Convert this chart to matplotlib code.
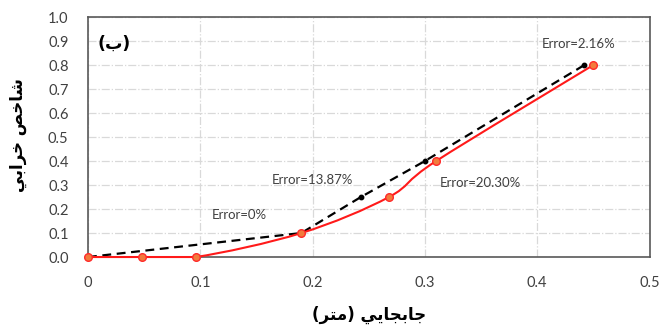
import numpy as np
import matplotlib
matplotlib.use('Agg')
import matplotlib.pyplot as plt
from matplotlib.path import Path
from matplotlib.patches import PathPatch

# red series (measured)
x_red = [0.0, 0.048, 0.096, 0.19, 0.268, 0.31, 0.45]
y_red = [0.0, 0.0, 0.0, 0.10, 0.25, 0.40, 0.80]

# black dashed series (predicted)
x_blk = [0.0, 0.19, 0.243, 0.30, 0.442]
y_blk = [0.0, 0.10, 0.25, 0.40, 0.80]

err_text = ['Error=0%', 'Error=13.87%', 'Error=20.30%', 'Error=2.16%']
err_x = [0.135, 0.200, 0.349, 0.437]
err_y = [0.175, 0.32, 0.308, 0.8875]

# arabic text written in visual order with presentation forms (no shaping in mpl)
xlab = '(\uFEAE\uFE98\uFEE3) \uFEF2\uFEF3\uFE8E\uFEA0\uFE91\uFE8E\uFE9F'
ylab = '\uFEF2\uFE91\uFE8D\uFEAE\uFEA7 \uFEBA\uFEA7\uFE8E\uFEB7'
panel = '(\uFE8F)'

num_font = 'Lato'


def smooth_path(xs, ys, t=1/6):
	# excel-like smoothed line as cubic bezier segments
	pts = np.column_stack([xs, ys])
	verts = [pts[0]]
	codes = [Path.MOVETO]
	n = len(pts)
	for i in range(n - 1):
		p0 = pts[i - 1] if i > 0 else pts[i]
		p1 = pts[i]
		p2 = pts[i + 1]
		p3 = pts[i + 2] if i + 2 < n else pts[i + 1]
		c1 = p1 + (p2 - p0) * t
		c2 = p2 - (p3 - p1) * t
		if p1[1] == p2[1] == 0:
			c1 = p1 + (p2 - p1) / 3
			c2 = p2 - (p2 - p1) / 3
		verts += [c1, c2, p2]
		codes += [Path.CURVE4] * 3
	return Path(verts, codes)


fig = plt.figure(figsize=(6.63, 3.27), dpi=100)
ax = fig.add_axes([0.1327, 0.214, 0.847, 0.734])

ax.plot(x_blk, y_blk, color='black', linestyle=(0, (4, 2.5)), linewidth=1.6,
	marker='o', markersize=3.2, zorder=3, clip_on=False)

ax.add_patch(PathPatch(smooth_path(x_red, y_red), facecolor='none',
	edgecolor='#ff1a1a', linewidth=1.5, zorder=4, clip_on=False))
ax.plot(x_red, y_red, linestyle='none', marker='o', markersize=5.5,
	markerfacecolor='#f27b3c', markeredgecolor='#ff2a2a', markeredgewidth=1,
	zorder=5, clip_on=False)

for t, xx, yy in zip(err_text, err_x, err_y):
	ax.text(xx, yy, t, ha='center', va='center', fontsize=9.5, color='#404040',
		family=num_font)

ax.text(0.023, 0.89, panel, ha='center', va='center', fontsize=12.5,
	fontweight='bold', family='DejaVu Sans')

ax.set_xlim(0, 0.5)
ax.set_ylim(0, 1.0)
ax.set_xticks(np.arange(0, 0.51, 0.1))
ax.set_yticks(np.arange(0, 1.01, 0.1))
ax.set_xticklabels(['0', '0.1', '0.2', '0.3', '0.4', '0.5'])
ax.set_yticklabels([f'{v:.1f}' for v in np.arange(0, 1.01, 0.1)])
ax.tick_params(length=0, labelsize=10.5, labelcolor='#404040')
ax.tick_params(axis='x', pad=14)
ax.tick_params(axis='y', pad=14)
for lbl in ax.get_xticklabels() + ax.get_yticklabels():
	lbl.set_family(num_font)

ax.grid(True, color='#d9d9d9', linestyle='-.', linewidth=0.9)
ax.set_axisbelow(True)
for s in ax.spines.values():
	s.set_color('#595959')
	s.set_linewidth(1.2)

fig.text(369 / 663, 1 - 315 / 327, xlab, ha='center', va='center',
	fontsize=12, fontweight='bold', family='DejaVu Sans')
fig.text(18 / 663, 1 - 135 / 327, ylab, ha='center', va='center', rotation=90,
	fontsize=12, fontweight='bold', family='DejaVu Sans')

fig.savefig('out.png', dpi=100)
